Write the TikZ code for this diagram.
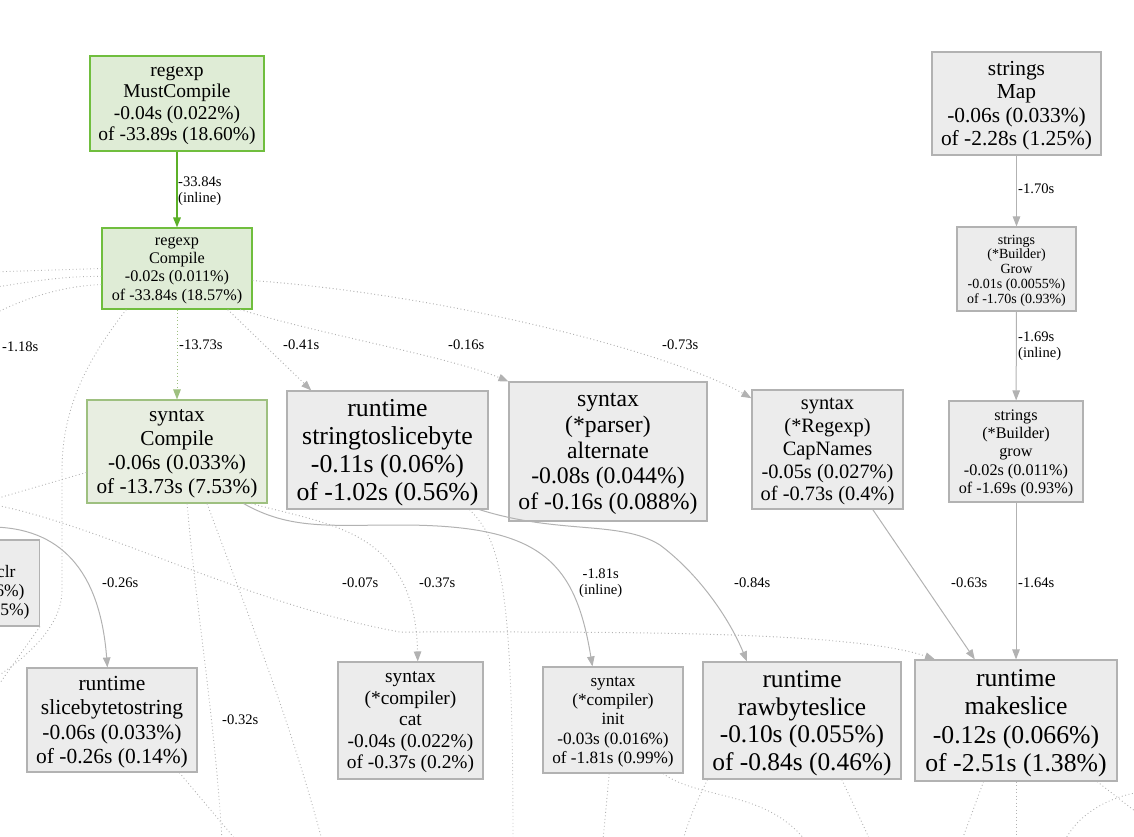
\documentclass[tikz,border=0pt]{standalone}
\usepackage{fontspec}
\setmainfont{Liberation Serif}
\usetikzlibrary{arrows.meta}

\definecolor{boxgray}{RGB}{236,236,236}
\definecolor{linegray}{RGB}{178,178,178}
\definecolor{greenfill}{RGB}{223,236,214}
\definecolor{greenline}{RGB}{112,190,62}
\definecolor{greenedge}{RGB}{92,176,40}
\definecolor{lgreenfill}{RGB}{232,238,225}
\definecolor{lgreenline}{RGB}{158,192,128}

\newcommand{\fsz}[2]{\fontsize{#1}{#2}\selectfont}

\tikzset{
  plainbox/.style={draw=linegray, fill=boxgray, line width=1.1pt, inner sep=0pt, align=center},
  box/.style={plainbox, text depth=-0.17em},
  gbox/.style={box, draw=greenline, fill=greenfill},
  lgbox/.style={box, draw=lgreenline, fill=lgreenfill},
  lbl/.style={inner sep=0pt, anchor=west, align=left, font=\fsz{14.6}{16}},
  call/.style={draw=linegray, line width=1pt, -{Triangle[length=10pt,width=7.5pt]}},
  dotcall/.style={call, dash pattern=on 0.9pt off 2.6pt},
  faint/.style={draw=linegray, line width=0.9pt, dash pattern=on 0.9pt off 2.6pt},
}

\begin{document}
\begin{tikzpicture}[x=1pt,y=-1pt]

\useasboundingbox (0,0) rectangle (1134,837);
\clip (0,0) rectangle (1134,837);

% regexp
\node[gbox, minimum width=174, minimum height=95, font=\fsz{19.5}{21.3}] (mustcompile) at (177,103.5) {regexp\\MustCompile\\-0.04s (0.022\%)\\of -33.89s (18.60\%)};
\node[gbox, minimum width=150, minimum height=81, font=\fsz{16.2}{18.3}] (compile) at (177,268.5) {regexp\\Compile\\-0.02s (0.011\%)\\of -33.84s (18.57\%)};

% syntax and runtime, middle row
\node[lgbox, minimum width=180, minimum height=103, font=\fsz{21.3}{24}] (syncompile) at (177,451.5) {syntax\\Compile\\-0.06s (0.033\%)\\of -13.73s (7.53\%)};
\node[box, minimum width=201, minimum height=118, font=\fsz{25.8}{28}] (stringtoslice) at (387.5,450) {runtime\\stringtoslicebyte\\-0.11s (0.06\%)\\of -1.02s (0.56\%)};
\node[box, minimum width=198, minimum height=139, font=\fsz{23.7}{25.7}] (alternate) at (608,451.5) {syntax\\(*parser)\\alternate\\-0.08s (0.044\%)\\of -0.16s (0.088\%)};
\node[box, minimum width=151, minimum height=119, font=\fsz{20.4}{22.8}] (capnames) at (827.5,449.5) {syntax\\(*Regexp)\\CapNames\\-0.05s (0.027\%)\\of -0.73s (0.4\%)};

% strings
\node[box, minimum width=169, minimum height=103, font=\fsz{21.4}{23.3}] (strmap) at (1016.5,103.5) {strings\\Map\\-0.06s (0.033\%)\\of -2.28s (1.25\%)};
\node[box, minimum width=119, minimum height=84, font=\fsz{14}{14.8}] (bgrow) at (1016.5,269) {strings\\(*Builder)\\Grow\\-0.01s (0.0055\%)\\of -1.70s (0.93\%)};
\node[box, minimum width=134, minimum height=101, font=\fsz{16.2}{18.3}] (bgrowlow) at (1016,451.5) {strings\\(*Builder)\\grow\\-0.02s (0.011\%)\\of -1.69s (0.93\%)};

% bottom row
\node[plainbox, minimum width=60, minimum height=86, anchor=east, text width=50, align=right, font=\fsz{17.5}{19}] (clr) at (40,583) {\rule{0pt}{30pt}clr\rule{19pt}{0pt}\\6\%)\rule{10pt}{0pt}\\55\%)\rule{5pt}{0pt}};
\node[box, minimum width=170, minimum height=104, font=\fsz{21.5}{24.3}] (slicetostr) at (112,720) {runtime\\slicebytetostring\\-0.06s (0.033\%)\\of -0.26s (0.14\%)};
\node[box, minimum width=145, minimum height=117, font=\fsz{19.4}{21.5}] (cat) at (410.5,720.5) {syntax\\(*compiler)\\cat\\-0.04s (0.022\%)\\of -0.37s (0.2\%)};
\node[box, minimum width=140, minimum height=106, font=\fsz{17.2}{19.3}] (init) at (613,720) {syntax\\(*compiler)\\init\\-0.03s (0.016\%)\\of -1.81s (0.99\%)};
\node[box, minimum width=198, minimum height=117, font=\fsz{25.4}{27.7}] (rawbyte) at (802,720.5) {runtime\\rawbyteslice\\-0.10s (0.055\%)\\of -0.84s (0.46\%)};
\node[box, minimum width=202, minimum height=121, font=\fsz{25.7}{28.3}] (makeslice) at (1016,720.5) {runtime\\makeslice\\-0.12s (0.066\%)\\of -2.51s (1.38\%)};

% ends that run out of the picture
\coordinate (w1) at (-10,272);
\coordinate (w2) at (-10,288);
\coordinate (w3) at (-10,316);
\coordinate (w4) at (-5,499);
\coordinate (w5) at (-5,505);
\coordinate (w6) at (-10,527);
\coordinate (s1) at (222,840);
\coordinate (s2) at (322,840);
\coordinate (s3) at (236,840);
\coordinate (s4) at (513,840);

% faint calls
\draw[faint] (compile.west) -- (w1);
\draw[faint] (compile.186) .. controls (60,276) and (30,282) .. (w2);
\draw[faint] (compile.192) .. controls (60,286) and (20,300) .. (w3);
\draw[faint] (compile.-141) .. controls (95,350) and (62,400) .. (62,470) -- (62,590) .. controls (62,625) and (30,655) .. (-5,678);
\draw[faint] (syncompile.193) -- (w4);
\draw[faint] (clr.south east) -- (-5,690);
\draw[faint] (syncompile.-79) .. controls (195,600) and (215,720) .. (s1);
\draw[faint] (syncompile.-60) .. controls (250,620) and (290,720) .. (s2);
\draw[faint] (slicetostr.-38) -- (s3);
\draw[faint] (stringtoslice.-36) .. controls (500,540) and (513,580) .. (s4);
\draw[faint] (init.-94) -- (603,840);
\draw[faint] (init.-47) .. controls (700,800) and (765,790) .. (805,840);
\draw[faint] (rawbyte.-148) .. controls (700,795) and (690,815) .. (683,840);
\draw[faint] (rawbyte.-56) -- (870,840);
\draw[faint] (makeslice.-118) -- (962,840);
\draw[faint] (makeslice.south) -- (1016,840);
\draw[faint] (makeslice.-37) -- (1140,815);
\draw[faint] (1065,840) .. controls (1080,812) and (1110,797) .. (1140,792);

% calls
\draw[call, draw=greenedge, line width=1.6pt] (mustcompile) -- (compile);
\draw[dotcall, draw=lgreenline] (compile) -- (syncompile);
\draw[dotcall] (compile.-39) -- (stringtoslice.142);
\draw[dotcall] (compile.-33) .. controls +(80,25) and +(-60,-25) .. (alternate.north west);
\draw[dotcall] (compile.-9) .. controls +(200,15) and +(-80,-45) .. (capnames.146);
\draw[dotcall] (syncompile.-35) .. controls (330,525) and (415,530) .. (cat.83);
\draw[dotcall] (w5) .. controls (100,525) and (250,605) .. (400,632) .. controls (600,632) and (850,630) .. (makeslice.143);
\draw[call] (w6) .. controls (60,527) and (100,570) .. (slicetostr.95);
\draw[call] (syncompile.-38) .. controls (290,530) and (330,525) .. (400,525) .. controls (540,525) and (575,560) .. (init.111);
\draw[call] (stringtoslice.-33) .. controls (560,535) and (620,520) .. (660,545) .. controls (700,575) and (730,620) .. (rawbyte.133);
\draw[call] (capnames.-53) -- (makeslice.124);
\draw[call] (strmap) -- (bgrow);
\draw[call] (bgrow) -- (bgrowlow);
\draw[call] (bgrowlow) -- (makeslice);

% labels
\node[lbl] (l1) at (178,191) {-33.84s\\(inline)};
\node[lbl] (l2) at (179,345) {-13.73s};
\node[lbl] (l3) at (283,345) {-0.41s};
\node[lbl] (l4) at (448,345) {-0.16s};
\node[lbl] (l5) at (662,345) {-0.73s};
\node[lbl] (l6) at (2,347) {-1.18s};
\node[lbl] (l7) at (1018,189) {-1.70s};
\node[lbl] (l8) at (1018,346) {-1.69s\\(inline)};
\node[lbl] (l9) at (102,583) {-0.26s};
\node[lbl] (l10) at (342,583) {-0.07s};
\node[lbl] (l11) at (419,583) {-0.37s};
\node[lbl, align=center] (l12) at (579,583) {-1.81s\\(inline)};
\node[lbl] (l13) at (734,583) {-0.84s};
\node[lbl] (l14) at (951,583) {-0.63s};
\node[lbl] (l15) at (1018,583) {-1.64s};
\node[lbl] (l16) at (222,720) {-0.32s};

\end{tikzpicture}
\end{document}
